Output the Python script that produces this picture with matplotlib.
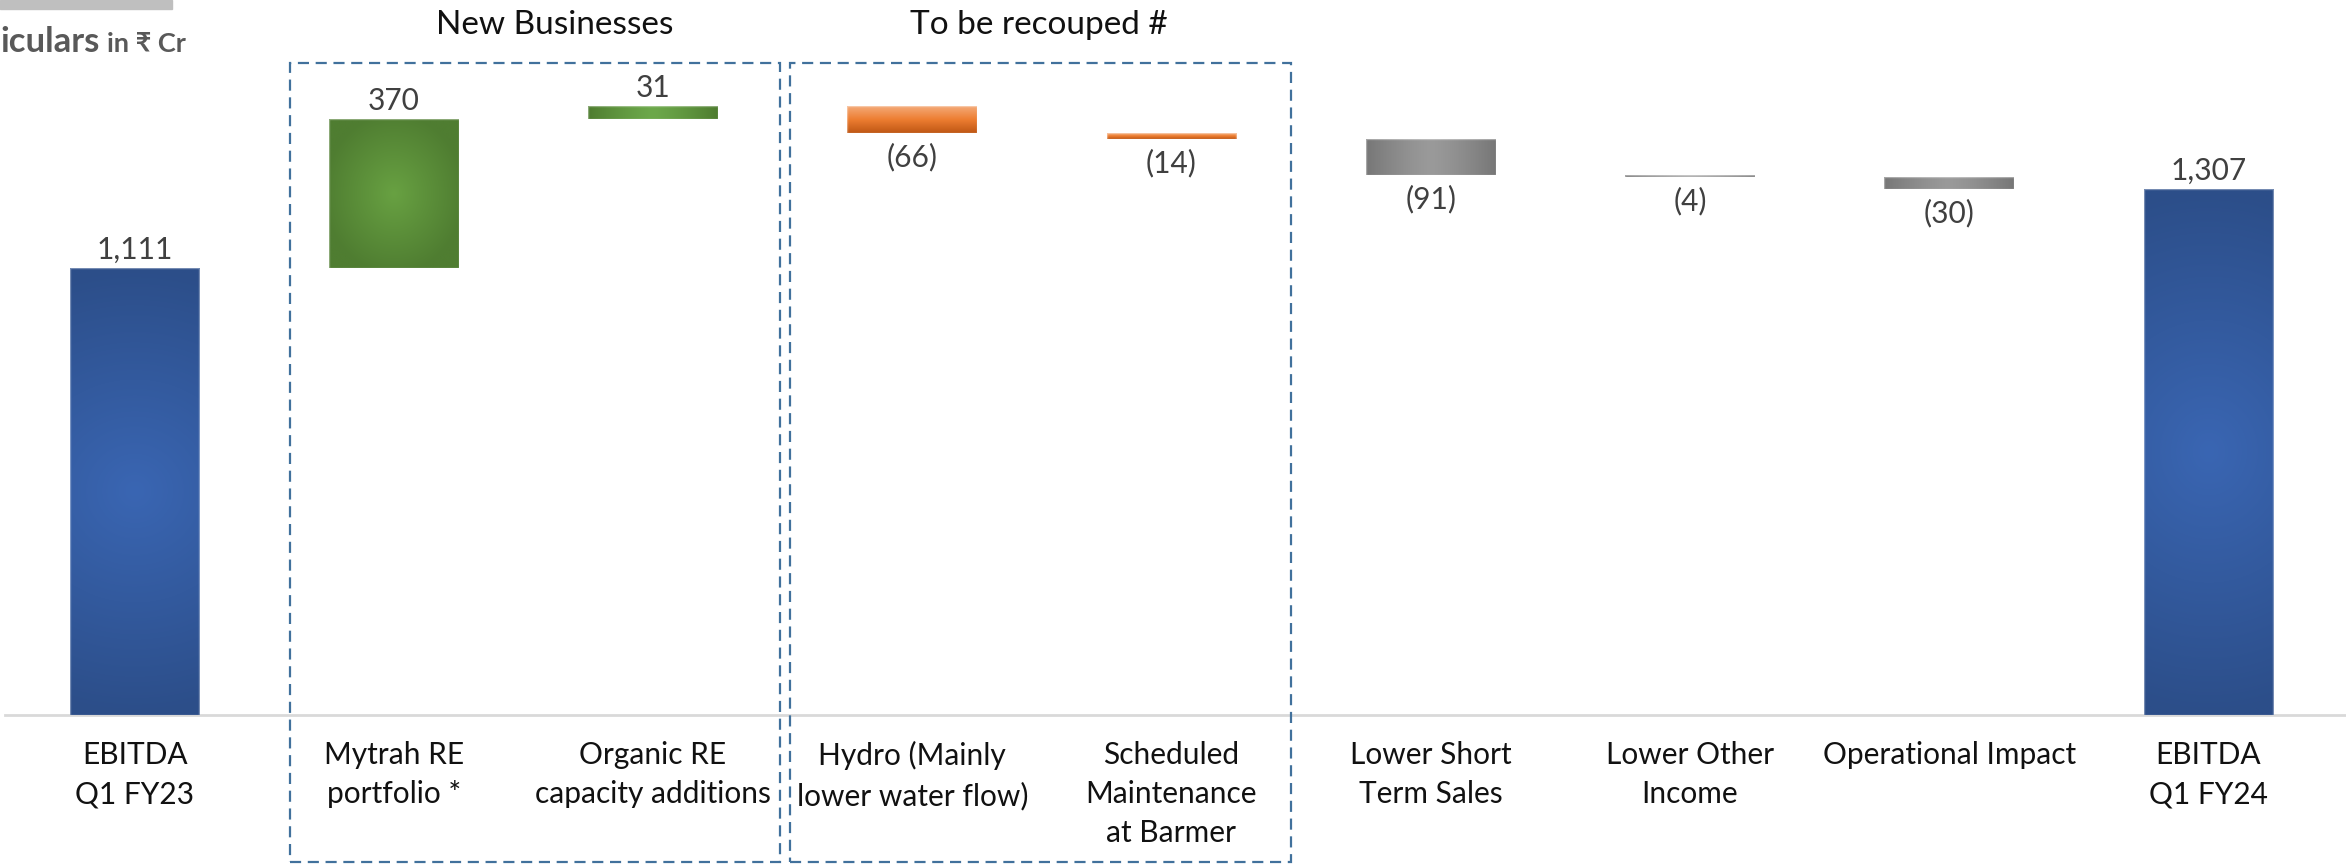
import numpy as np
import matplotlib
matplotlib.use("Agg")
import matplotlib.pyplot as plt
from matplotlib.patches import Rectangle
from matplotlib.transforms import blended_transform_factory
from matplotlib.colors import to_rgb

plt.rcParams['font.family'] = ['Lato', 'DejaVu Sans']

# ---- data -------------------------------------------------------------
categories = [
    "EBITDA\nQ1 FY23",
    "Mytrah RE\nportfolio *",
    "Organic RE\ncapacity additions",
    "Hydro (Mainly\nlower water flow)",
    "Scheduled\nMaintenance\nat Barmer",
    "Lower Short\nTerm Sales",
    "Lower Other\nIncome",
    "Operational Impact",
    "EBITDA\nQ1 FY24",
]
opening = 1111
deltas = [370, 31, -66, -14, -91, -4, -30]
closing = 1307
value_labels = ["1,111", "370", "31", "(66)", "(14)", "(91)", "(4)", "(30)", "1,307"]
group_titles = ["New Businesses", "To be recouped #"]

# ---- waterfall geometry from the data ---------------------------------
bottoms, heights = [0], [opening]
running = opening
for d in deltas:
    new = running + d
    bottoms.append(min(running, new))
    heights.append(abs(d))
    running = new
bottoms.append(0)
heights.append(closing)
signs = [1] + [1 if d >= 0 else -1 for d in deltas] + [1]

W, H = 2346, 865
fig = plt.figure(figsize=(W / 100, H / 100), dpi=100)
ax = fig.add_axes([5 / W, 150 / H, 2333 / W, 644 / H])

x = np.arange(len(categories))
bars = ax.bar(x, heights, bottom=bottoms, width=0.5, color="none",
              edgecolor="none", zorder=2)

# gradient styles per bar
styles = (["radial_blue"] + ["radial", "horiz"] + ["vert", "vert"]
          + ["horiz", "horiz", "horiz"] + ["radial_blue"])
palette = {
    0: ("#2C4E89", "#3A66B3"),
    1: ("#4F7D31", "#68A142"),
    2: ("#4E7C2F", "#6CA84A"),
    3: ("#C45A14", "#F4A36C"),
    4: ("#C45A14", "#F4A36C"),
    5: ("#777777", "#9A9A9A"),
    6: ("#7A7A7A", "#A8A8A8"),
    7: ("#777777", "#9A9A9A"),
    8: ("#2C4E89", "#3A66B3"),
}


def gradient(mode, c_edge, c_mid, n=200):
    e = np.array(to_rgb(c_edge))
    m = np.array(to_rgb(c_mid))
    u = np.linspace(0, 1, n)
    U, V = np.meshgrid(u, u)  # V: 0 bottom -> 1 top (origin lower)
    if mode == "radial_blue":
        t = np.sqrt(((U - 0.5) / 0.5) ** 2 * 0.08 + ((V - 0.5) / 0.5) ** 2)
        t = np.clip(t, 0, 1)
    elif mode == "radial":
        t = np.sqrt(((U - 0.5) / 0.5) ** 2 + ((V - 0.5) / 0.5) ** 2) / np.sqrt(2)
        t = np.clip(t * 1.3, 0, 1)
    elif mode == "horiz":
        t = np.abs(U - 0.5) / 0.5
        t = np.clip(t, 0, 1) ** 1.3
    else:  # vertical: light top, mid orange, dark bottom
        top = np.array(to_rgb("#F4AA78"))
        mid = np.array(to_rgb("#ED7D31"))
        bot = np.array(to_rgb("#BF5714"))
        img = np.where((V < 0.5)[..., None],
                       bot + (mid - bot) * (V / 0.5)[..., None],
                       mid + (top - mid) * ((V - 0.5) / 0.5)[..., None])
        return img
    return m + (e - m) * t[..., None]


for i, b in enumerate(bars):
    c_edge, c_mid = palette[i]
    img = gradient(styles[i], c_edge, c_mid)
    x0, y0, w, h = b.get_x(), b.get_y(), b.get_width(), b.get_height()
    im = ax.imshow(img, extent=[x0, x0 + w, y0, y0 + h], origin="lower",
                   aspect="auto", interpolation="bilinear", zorder=2.5)
    im.set_clip_path(b)
    edge = Rectangle((x0, y0), w, h, fill=False, lw=1.0,
                     edgecolor=(1, 1, 1, 0.35), zorder=2.6)
    ax.add_patch(edge)

# value labels
for i, b in enumerate(bars):
    cx = b.get_x() + b.get_width() / 2
    if signs[i] > 0:
        ax.annotate(value_labels[i], (cx, b.get_y() + b.get_height()),
                    xytext=(0, 3), textcoords="offset points",
                    ha="center", va="bottom", fontsize=21.5, color="#404040")
    else:
        ax.annotate(value_labels[i], (cx, b.get_y()),
                    xytext=(0, -7), textcoords="offset points",
                    ha="center", va="top", fontsize=21.5, color="#404040")

ax.set_xlim(-0.5, 8.5)
ax.set_ylim(0, 1600)
ax.set_xticks(x)
ax.set_xticklabels(categories, fontsize=21.5, color="#111111", linespacing=1.48)
ax.tick_params(axis="x", length=0, pad=19)
ax.set_yticks([])
for s in ax.spines.values():
    s.set_visible(False)
ax.axhline(0, xmin=0, xmax=1.01, color="#D9D9D9", lw=2, clip_on=False, zorder=1)

# dashed group frames and their titles
tr = blended_transform_factory(ax.transData, fig.transFigure)
frames = [(0.60, 2.49), (2.53, 4.46)]
title_x = [1.62, 3.49]
for (fx0, fx1), tx, title in zip(frames, title_x, group_titles):
    ax.add_patch(Rectangle((fx0, 3 / H), fx1 - fx0, 1 - 66 / H,
                           transform=tr, fill=False, clip_on=False,
                           edgecolor="#41719C", lw=1.6, ls=(0, (5, 3))))
    ax.text(tx, 1 - 25 / H, title, transform=tr, ha="center", va="center",
            fontsize=24, color="#111111")

# header strip and unit caption
fig.patches.append(Rectangle((0, 1 - 9 / H), 172 / W, 9 / H,
                             transform=fig.transFigure, color="#BFBFBF"))
t1 = fig.text(0, 1 - 52 / H, "iculars", fontsize=25, fontweight="bold",
              color="#595959", ha="left", va="baseline")
fig.canvas.draw()
bb = t1.get_window_extent()
fig.text(bb.x1 / W + 8 / W, 1 - 52 / H, "in ₹ Cr", fontsize=19.5,
         fontweight="bold", color="#595959", ha="left", va="baseline")

fig.savefig("out.png", dpi=100)
